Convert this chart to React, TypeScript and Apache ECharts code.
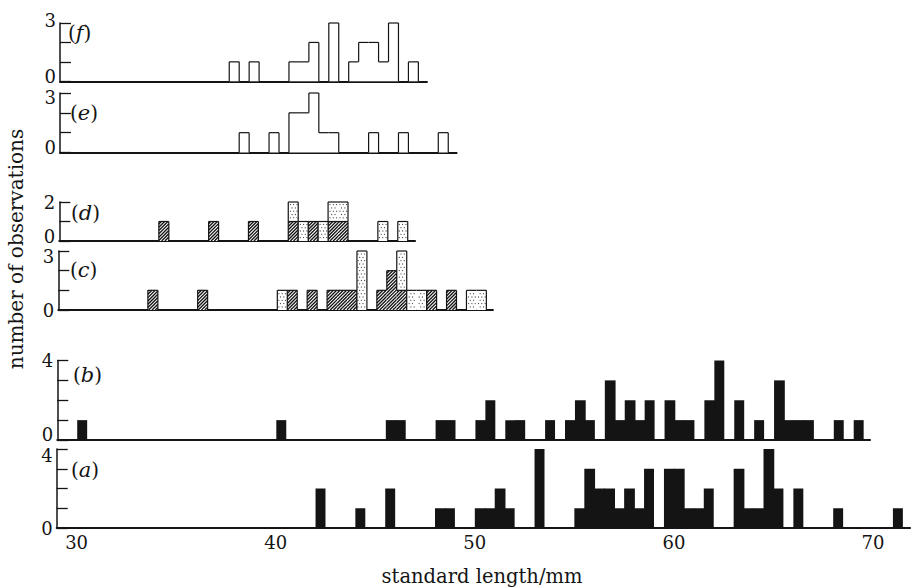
import React, { useEffect, useRef } from "react";
import * as echarts from "echarts";

// ---------------- data (bin start in mm, count); bins are 0.5 mm wide ----------------
const BIN = 0.5;
const X_MIN = 29;
const X_TICKS = [30, 40, 50, 60, 70];

const panelA: number[][] = [
  [42, 2], [44, 1], [45.5, 2], [48, 1], [48.5, 1], [50, 1], [50.5, 1], [51, 2], [51.5, 1],
  [53, 4], [55, 1], [55.5, 3], [56, 2], [56.5, 2], [57, 1], [57.5, 2], [58, 1], [58.5, 3],
  [59.5, 3], [60, 3], [60.5, 1], [61, 1], [61.5, 2], [63, 3], [63.5, 1], [64, 1], [64.5, 4],
  [65, 2], [66, 2], [68, 1], [71, 1],
];
const panelB: number[][] = [
  [30, 1], [40, 1], [45.5, 1], [46, 1], [48, 1], [48.5, 1], [50, 1], [50.5, 2], [51.5, 1],
  [52, 1], [53.5, 1], [54.5, 1], [55, 2], [55.5, 1], [56.5, 3], [57, 1], [57.5, 2], [58, 1],
  [58.5, 2], [59.5, 2], [60, 1], [60.5, 1], [61.5, 2], [62, 4], [63, 2], [64, 1], [65, 3],
  [65.5, 1], [66, 1], [66.5, 1], [68, 1], [69, 1],
];
const panelCHatched: number[][] = [
  [33.5, 1], [36, 1], [40.5, 1], [41.5, 1], [42.5, 1], [43, 1], [43.5, 1], [45, 1], [45.5, 2],
  [46, 1], [47.5, 1], [48.5, 1],
];
const panelCStippled: number[][] = [
  [40, 1], [44, 3], [46, 2], [46.5, 1], [47, 1], [49.5, 1], [50, 1],
];
const panelDHatched: number[][] = [
  [34, 1], [36.5, 1], [38.5, 1], [40.5, 1], [41.5, 1], [42.5, 1], [43, 1],
];
const panelDStippled: number[][] = [
  [40.5, 1], [41, 1], [42, 1], [42.5, 1], [43, 1], [45, 1], [46, 1],
];
const panelE: number[][] = [
  [38, 1], [39.5, 1], [40.5, 2], [41, 2], [41.5, 3], [42, 1], [42.5, 1], [44.5, 1], [46, 1], [48, 1],
];
const panelF: number[][] = [
  [37.5, 1], [38.5, 1], [40.5, 1], [41, 1], [41.5, 2], [42.5, 3], [43.5, 1], [44, 2], [44.5, 2],
  [45, 1], [45.5, 3], [46.5, 1],
];

const Y_LABEL = "number of observations";
const X_LABEL = "standard length/mm";

// ---------------- helpers ----------------
const key = (s: number) => Math.round(s / BIN);

// items: [start, base, top]
function onGround(arr: number[][]): number[][] {
  return arr.map(([s, c]) => [s, 0, c]);
}
function stackOn(lower: number[][], upper: number[][]): number[][] {
  const m = new Map<number, number>();
  lower.forEach(([s, c]) => m.set(key(s), c));
  return upper.map(([s, c]) => {
    const b = m.get(key(s)) || 0;
    return [s, b, b + c];
  });
}

function boundarySegs(A: number[] | undefined, B: number[] | undefined): number[][] {
  if (!A && !B) return [];
  if (!A) return [B as number[]];
  if (!B) return [A];
  if (A[1] < B[0] || B[1] < A[0]) return [A, B];
  const out: number[][] = [];
  if (A[0] !== B[0]) out.push([Math.min(A[0], B[0]), Math.max(A[0], B[0])]);
  if (A[1] !== B[1]) out.push([Math.min(A[1], B[1]), Math.max(A[1], B[1])]);
  return out;
}

const INK = "#141414";

function makeRender(items: number[][], kind: string) {
  const map = new Map<number, number[]>();
  items.forEach(([s, b, t]) => map.set(key(s), [b, t]));
  return (_params: any, api: any) => {
    const s = api.value(0);
    const b = api.value(1);
    const t = api.value(2);
    const k = key(s);
    const p0 = api.coord([s, t]);
    const p1 = api.coord([s + BIN, b]);
    const x0 = p0[0], y0 = p0[1], x1 = p1[0], y1 = p1[1];
    const yOf = (v: number) => api.coord([s, v])[1];
    const children: any[] = [];
    if (kind === "black") {
      const overlap = map.has(k + 1) ? 0.8 : 0;
      children.push({
        type: "rect",
        shape: { x: x0, y: y0, width: x1 - x0 + overlap, height: y1 - y0 },
        style: { fill: INK },
      });
      return { type: "group", children };
    }
    children.push({
      type: "rect",
      shape: { x: x0, y: y0, width: x1 - x0, height: y1 - y0 },
      style: { fill: "#fff" },
    });
    if (kind === "hatch") {
      const d = 3.3;
      for (let c = Math.ceil((x0 + y0) / d) * d; c < x1 + y1; c += d) {
        const xa = Math.max(x0, c - y1);
        const xb = Math.min(x1, c - y0);
        if (xb - xa > 0.3) {
          children.push({
            type: "line",
            shape: { x1: xa, y1: c - xa, x2: xb, y2: c - xb },
            style: { stroke: INK, lineWidth: 1.35 },
          });
        }
      }
    }
    if (kind === "stipple") {
      const st = 3.3;
      for (let gy = Math.ceil(y0 / st); gy * st < y1 - 0.8; gy++) {
        const off = (gy % 2) * st * 0.5;
        for (let gx = Math.floor(x0 / st) - 1; gx * st < x1; gx++) {
          const cx = gx * st + off;
          const cy = gy * st;
          if (cx > x0 + 1 && cx < x1 - 1 && cy > y0 + 1) {
            children.push({
              type: "circle",
              shape: { cx, cy, r: 0.55 },
              style: { fill: "#3a3a3a" },
            });
          }
        }
      }
    }
    const ls = { stroke: INK, lineWidth: 1.2 };
    children.push({ type: "line", shape: { x1: x0, y1: y0, x2: x1, y2: y0 }, style: ls });
    if (b > 0) children.push({ type: "line", shape: { x1: x0, y1: y1, x2: x1, y2: y1 }, style: ls });
    boundarySegs(map.get(k - 1), [b, t]).forEach(([lo, hi]) => {
      children.push({ type: "line", shape: { x1: x0, y1: yOf(lo), x2: x0, y2: yOf(hi) }, style: ls });
    });
    if (!map.has(k + 1)) {
      children.push({ type: "line", shape: { x1: x1, y1: y1, x2: x1, y2: y0 }, style: ls });
    }
    return { type: "group", children };
  };
}

// ---------------- layout ----------------
const PX_PER_MM = 19.91;
const FONT = "DejaVu Serif";

// loUp: move the "0" label up (px); hiDown: move the top label down (px, negative = up)
const panels = [
  { id: "a", yMax: 4, xMax: 71.86, left: 56.7, top: 449, height: 79, lx: 71, ly: 470, loUp: 0, hiDown: 6,
    layers: [{ kind: "black", items: onGround(panelA) }] },
  { id: "b", yMax: 4, xMax: 69.82, left: 57.3, top: 360.5, height: 79.5, lx: 73, ly: 375, loUp: 6, hiDown: 0,
    layers: [{ kind: "black", items: onGround(panelB) }] },
  { id: "c", yMax: 3, xMax: 50.83, left: 58.3, top: 251, height: 59, lx: 70, ly: 270, loUp: 0, hiDown: 5,
    layers: [
      { kind: "hatch", items: onGround(panelCHatched) },
      { kind: "stipple", items: stackOn(panelCHatched, panelCStippled) },
    ] },
  { id: "d", yMax: 2, xMax: 46.87, left: 59.3, top: 202, height: 39, lx: 71, ly: 213, loUp: 5, hiDown: 0,
    layers: [
      { kind: "hatch", items: onGround(panelDHatched) },
      { kind: "stipple", items: stackOn(panelDHatched, panelDStippled) },
    ] },
  { id: "e", yMax: 3, xMax: 48.92, left: 60, top: 93, height: 59.5, lx: 70, ly: 113, loUp: 5, hiDown: 4.5,
    layers: [{ kind: "open", items: onGround(panelE) }] },
  { id: "f", yMax: 3, xMax: 47.43, left: 60, top: 23, height: 58.3, lx: 68, ly: 33, loUp: 5, hiDown: -3,
    layers: [{ kind: "open", items: onGround(panelF) }] },
];

export default function App() {
  const ref = useRef<HTMLDivElement>(null);
  useEffect(() => {
    if (!ref.current) return;
    const chart = echarts.init(ref.current, undefined, { renderer: "svg" });

    const grid = panels.map((p) => ({
      left: p.left,
      top: p.top,
      width: (p.xMax - X_MIN) * PX_PER_MM,
      height: p.height,
    }));
    const xAxis = panels.map((p, i) => ({
      type: "value",
      gridIndex: i,
      min: X_MIN,
      max: p.xMax,
      axisLine: { show: true, onZero: true, lineStyle: { color: INK, width: 2 } },
      axisTick: { show: false },
      splitLine: { show: false },
      axisLabel:
        i === 0
          ? {
              show: true,
              customValues: X_TICKS,
              formatter: (v: number) => (X_TICKS.indexOf(v) >= 0 ? String(v) : ""),
              margin: 5,
              fontFamily: FONT,
              fontSize: 18,
              color: INK,
            }
          : { show: false },
    }));
    const pad = (down: number) =>
      down >= 0 ? [2 * down, 0, 0, 0] : [0, 0, -2 * down, 0];
    const yAxis = panels.map((p, i) => ({
      type: "value",
      gridIndex: i,
      min: 0,
      max: p.yMax,
      interval: 1,
      axisLine: { show: true, onZero: false, lineStyle: { color: INK, width: 1.5 } },
      axisTick: { show: true, inside: true, length: 11, lineStyle: { color: INK, width: 1.3 } },
      splitLine: { show: false },
      axisLabel: {
        formatter: (v: number) =>
          v === 0 ? "{lo|0}" : v === p.yMax ? `{hi|${p.yMax}}` : "",
        margin: 4,
        fontFamily: FONT,
        fontSize: 18,
        color: INK,
        rich: {
          lo: { fontFamily: FONT, fontSize: 18, color: INK, lineHeight: 14, padding: pad(-p.loUp) },
          hi: { fontFamily: FONT, fontSize: 18, color: INK, lineHeight: 14, padding: pad(p.hiDown) },
        },
      },
    }));
    const series: any[] = [];
    panels.forEach((p, i) => {
      p.layers.forEach((layer) => {
        series.push({
          type: "custom",
          xAxisIndex: i,
          yAxisIndex: i,
          renderItem: makeRender(layer.items, layer.kind),
          data: layer.items,
          encode: { x: 0, y: 2 },
          silent: true,
          z: 1,
        });
      });
    });
    const graphic: any[] = panels.map((p) => ({
      type: "text",
      x: p.lx,
      y: p.ly,
      style: {
        text: `{p|(}{i|${p.id}}{p|)}`,
        verticalAlign: "middle",
        align: "left",
        rich: {
          p: { fontFamily: FONT, fontSize: 20, fill: INK, color: INK },
          i: { fontFamily: FONT, fontStyle: "italic", fontSize: 21, fill: INK, color: INK },
        },
      },
    }));
    graphic.push({
      type: "text",
      x: 16,
      y: 249,
      rotation: Math.PI / 2,
      style: {
        text: Y_LABEL,
        fontFamily: FONT,
        fontSize: 20,
        fill: INK,
        align: "center",
        verticalAlign: "middle",
      },
    });
    graphic.push({
      type: "text",
      x: 482,
      y: 576,
      style: {
        text: X_LABEL,
        fontFamily: FONT,
        fontSize: 19.5,
        fill: INK,
        align: "center",
        verticalAlign: "middle",
      },
    });

    chart.setOption({
      animation: false,
      backgroundColor: "#fff",
      grid,
      xAxis,
      yAxis,
      series,
      graphic,
    });
    return () => chart.dispose();
  }, []);
  return (
    <div
      ref={ref}
      style={{ position: "fixed", left: 0, top: 0, width: 911, height: 587, background: "#fff" }}
    />
  );
}
